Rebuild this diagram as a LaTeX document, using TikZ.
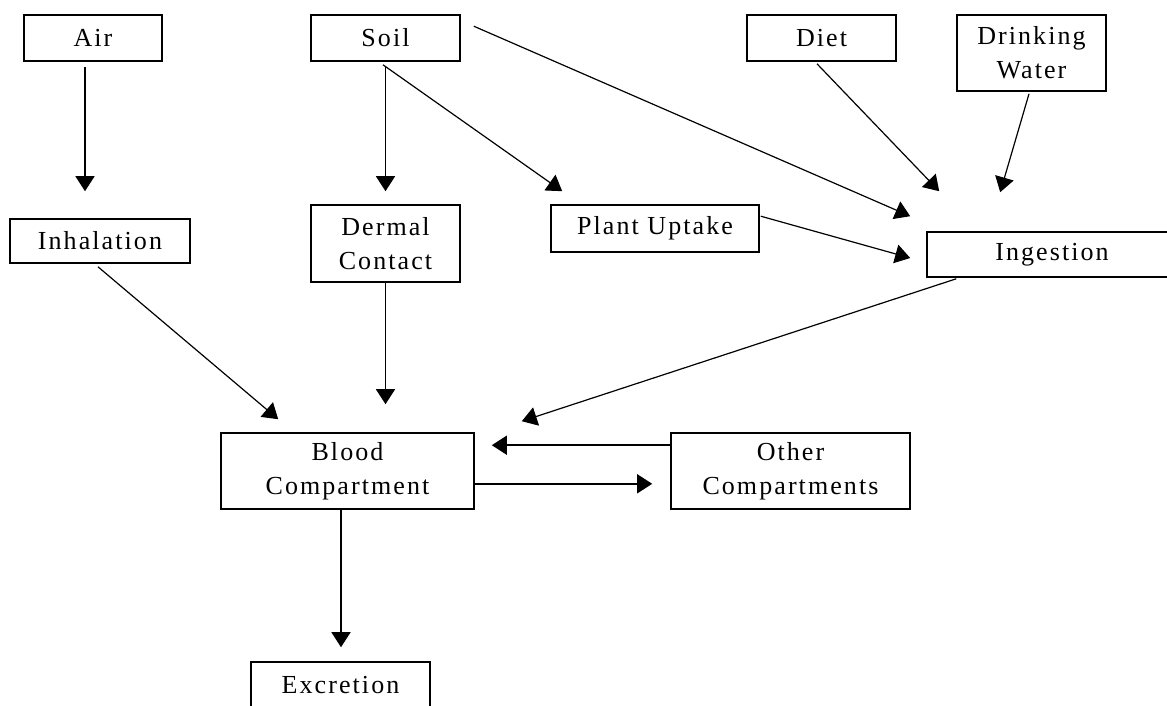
\documentclass[tikz,border=0pt]{standalone}
\usepackage{fontspec}
\setmainfont{Liberation Serif}[LetterSpace=8]
\usetikzlibrary{arrows.meta}
\begin{document}
\begin{tikzpicture}[x=1pt,y=-1pt,
  box/.style={draw=black, line width=1.6pt, fill=white, inner sep=0pt, align=center,
    font=\fontsize{26}{34}\selectfont},
  arr/.style={line width=1.5pt, -{Triangle[length=15pt,width=19pt]}},
  darr/.style={line width=1.2pt, -{Triangle[length=15pt,width=19pt]}}]
\useasboundingbox (0,0) rectangle (1167,705);
\clip (0,0) rectangle (1167,705);
\fill[white] (0,0) rectangle (1167,705);
% boxes
\node[box, minimum width=138pt, minimum height=46pt] (air) at (93,38) {Air};
\node[box, minimum width=149pt, minimum height=46pt] (soil) at (385.5,38) {Soil};
\node[box, minimum width=149pt, minimum height=46pt] (diet) at (821.5,38) {Diet};
\node[box, minimum width=149pt, minimum height=76pt] (water) at (1031.5,53) {Drinking\\Water};
\node[box, minimum width=180pt, minimum height=44pt] (inhal) at (100,241) {Inhalation};
\node[box, minimum width=149pt, minimum height=77pt] (dermal) at (385.5,243.5) {Dermal\\Contact};
\node[box, minimum width=208pt, minimum height=47pt] (plant) at (655,228.5) {Plant Uptake};
\node[box, minimum width=250pt, minimum height=45pt] (ingest) at (1052,254.5) {Ingestion};
\node[box, minimum width=253pt, minimum height=76pt] (blood) at (347.5,471) {Blood\\Compartment};
\node[box, minimum width=239pt, minimum height=76pt] (other) at (790.5,471) {Other\\Compartments};
\node[box, minimum width=179pt, minimum height=46pt] (excr) at (340.5,685) {Excretion};
% connectors
\draw[arr] ([shift={(-8,5)}]air.south) -- ([shift={(-15,-27)}]inhal.north);
\draw[arr] ([shift={(0,4)}]soil.south) -- ([shift={(0,-13)}]dermal.north);
\draw[darr] ([shift={(-2.5,3)}]soil.south) -- ([shift={(12,-13)}]plant.north west);
\draw[darr] ([shift={(13,12)}]soil.north east) -- ([shift={(-16,-15)}]ingest.north west);
\draw[darr] ([shift={(-4.5,2)}]diet.south) -- ([shift={(13,-40)}]ingest.north west);
\draw[darr] ([shift={(-2.5,2)}]water.south) -- ([shift={(74,-39)}]ingest.north west);
\draw[darr] ([shift={(1,12)}]plant.north east) -- ([shift={(-16,3.5)}]ingest.west);
\draw[darr] ([shift={(-2,3)}]inhal.south) -- ([shift={(58,-13)}]blood.north west);
\draw[arr] (dermal.south) -- ([shift={(38,-28)}]blood.north);
\draw[darr] ([shift={(30,1)}]ingest.south west) -- ([shift={(47,-11)}]blood.north east);
\draw[arr] ([shift={(0,13)}]other.north west) -- ([shift={(17,13)}]blood.north east);
\draw[arr] ([shift={(0,-26)}]blood.south east) -- ([shift={(-18,-26)}]other.south west);
\draw[arr] ([shift={(-6.5,0)}]blood.south) -- ([shift={(0.5,-14)}]excr.north);
\end{tikzpicture}
\end{document}
